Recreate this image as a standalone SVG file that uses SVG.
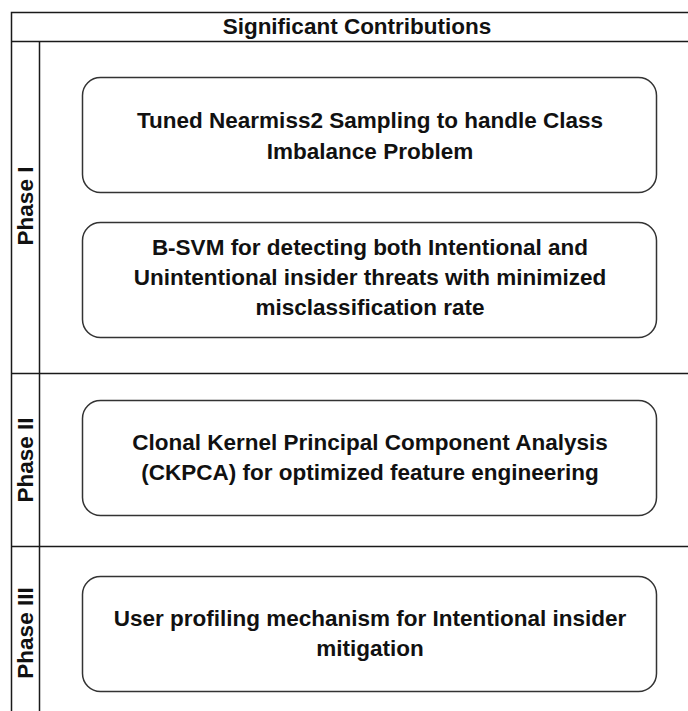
<svg xmlns="http://www.w3.org/2000/svg" width="688" height="711" viewBox="0 0 688 711">
  <style>
    .frame { fill: none; stroke: #1a1a1a; stroke-width: 1.5; }
    .box { fill: #ffffff; stroke: #333333; stroke-width: 1.5; }
    .t { font-family: "Liberation Sans", Arial, sans-serif; font-weight: bold; font-size: 22.5px; fill: #111111; text-anchor: middle; }
  </style>
  <rect x="0" y="0" width="688" height="711" fill="#ffffff"/>

  <!-- table frame: header row, phase column and phase dividers -->
  <g id="frame">
    <path class="frame" d="M11.5,720 V12.5 H700"/>
    <line class="frame" x1="11.5" y1="41.5" x2="700" y2="41.5"/>
    <line class="frame" x1="39.5" y1="41.5" x2="39.5" y2="720"/>
    <line class="frame" x1="11.5" y1="373.5" x2="700" y2="373.5"/>
    <line class="frame" x1="11.5" y1="546.5" x2="700" y2="546.5"/>
    <text class="t" x="357" y="34">Significant Contributions</text>
  </g>

  <!-- phase labels -->
  <g id="phase-1"><text class="t" transform="translate(33,206) rotate(-90)">Phase I</text></g>
  <g id="phase-2"><text class="t" transform="translate(33,460) rotate(-90)">Phase II</text></g>
  <g id="phase-3"><text class="t" transform="translate(33,633) rotate(-90)">Phase III</text></g>

  <!-- contribution boxes -->
  <g id="nearmiss">
    <rect class="box" x="82.5" y="77.5" width="574" height="115" rx="18"/>
    <text class="t" x="370" y="128">Tuned Nearmiss2 Sampling to handle Class</text>
    <text class="t" x="370" y="159">Imbalance Problem</text>
  </g>
  <g id="bsvm">
    <rect class="box" x="82.5" y="222.5" width="574" height="115" rx="18"/>
    <text class="t" x="370" y="255">B-SVM for detecting both Intentional and</text>
    <text class="t" x="370" y="285">Unintentional insider threats with minimized</text>
    <text class="t" x="370" y="315">misclassification rate</text>
  </g>
  <g id="ckpca">
    <rect class="box" x="82.5" y="400.5" width="574" height="115" rx="18"/>
    <text class="t" x="370" y="450">Clonal Kernel Principal Component Analysis</text>
    <text class="t" x="370" y="480">(CKPCA) for optimized feature engineering</text>
  </g>
  <g id="profiling">
    <rect class="box" x="82.5" y="576.5" width="574" height="115" rx="18"/>
    <text class="t" x="370" y="626">User profiling mechanism for Intentional insider</text>
    <text class="t" x="370" y="656">mitigation</text>
  </g>
</svg>
